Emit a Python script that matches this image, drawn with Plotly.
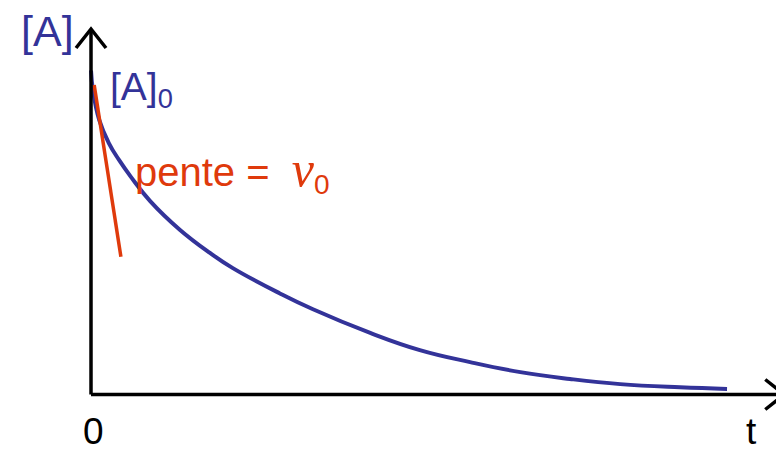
import plotly.graph_objects as go

# Concentration decay curve [A](t), arbitrary units
t_vals = [0.0, 0.03, 0.13, 0.28, 0.44, 0.63, 0.93, 1.40, 1.87, 2.23, 2.97,
          3.49, 4.39, 5.17, 5.96, 6.75, 7.53, 8.32, 9.26, 10.0]
a_vals = [1.0, 0.94, 0.847, 0.776, 0.724, 0.671, 0.597, 0.508, 0.437, 0.390,
          0.312, 0.263, 0.190, 0.137, 0.100, 0.069, 0.048, 0.032, 0.022, 0.017]

# Initial tangent (slope = v0)
tan_t = [0.05, 0.47]
tan_a = [0.955, 0.425]

# Axis extents
t_max_axis = 10.9
a_max_axis = 1.128

W, H = 776, 450
X_RANGE = [-1.431, 10.770]
Y_RANGE = [-0.1713, 1.2176]

BLUE = "#333399"
RED = "#DF3A0C"
SANS = "Liberation Sans, Arial, sans-serif"

# pixel-per-unit factors, used to size the open arrow heads
sx = W / (X_RANGE[1] - X_RANGE[0])
sy = H / (Y_RANGE[1] - Y_RANGE[0])

fig = go.Figure()

fig.add_trace(go.Scatter(x=t_vals, y=a_vals, mode="lines",
                         line=dict(color=BLUE, width=4, shape="spline", smoothing=1.25),
                         hoverinfo="skip"))
fig.add_trace(go.Scatter(x=tan_t, y=tan_a, mode="lines",
                         line=dict(color=RED, width=3.5),
                         hoverinfo="skip"))

# axes with open chevron arrow heads
axis_style = dict(color="black", width=3.5)
shapes = [
    dict(type="line", x0=0, y0=0, x1=0, y1=a_max_axis, line=axis_style, layer="above"),
    dict(type="line", x0=0, y0=0, x1=t_max_axis, y1=0, line=axis_style, layer="above"),
]
ah_back, ah_half = 19, 15
shapes.append(dict(type="path", layer="above", line=axis_style,
                   path=f"M {-ah_half/sx} {a_max_axis - ah_back/sy} L 0 {a_max_axis} "
                        f"L {ah_half/sx} {a_max_axis - ah_back/sy}"))
shapes.append(dict(type="path", layer="above", line=axis_style,
                   path=f"M {t_max_axis - ah_back/sx} {ah_half/sy} L {t_max_axis} 0 "
                        f"L {t_max_axis - ah_back/sx} {-ah_half/sy}"))


def px(x):
    return x / W


def py(y):
    return 1 - y / H


annotations = [
    dict(x=px(47), y=py(31), text="[A]", font=dict(family=SANS, size=43, color=BLUE),
         xanchor="center", yanchor="middle"),
    dict(x=px(108), y=py(90), text="[A]<sub>0</sub>", font=dict(family=SANS, size=39, color=BLUE),
         xanchor="left", yanchor="middle"),
    dict(x=px(133), y=py(170),
         text="pente =  <span style='font-family:Liberation Serif, serif;font-size:50px'><i>v</i></span><sub>0</sub>",
         font=dict(family=SANS, size=40, color=RED), xanchor="left", yanchor="middle"),
    dict(x=px(93), y=py(431), text="0", font=dict(family=SANS, size=37, color="black"),
         xanchor="center", yanchor="middle"),
    dict(x=px(751), y=py(431), text="t", font=dict(family=SANS, size=37, color="black"),
         xanchor="center", yanchor="middle"),
]
for a in annotations:
    a.update(xref="paper", yref="paper", showarrow=False)

fig.update_layout(
    width=W, height=H, autosize=False,
    margin=dict(l=0, r=0, t=0, b=0, pad=0),
    paper_bgcolor="white", plot_bgcolor="white",
    showlegend=False,
    xaxis=dict(range=X_RANGE, visible=False, fixedrange=True),
    yaxis=dict(range=Y_RANGE, visible=False, fixedrange=True),
    shapes=shapes,
    annotations=annotations,
)

fig.write_html("out.html")
